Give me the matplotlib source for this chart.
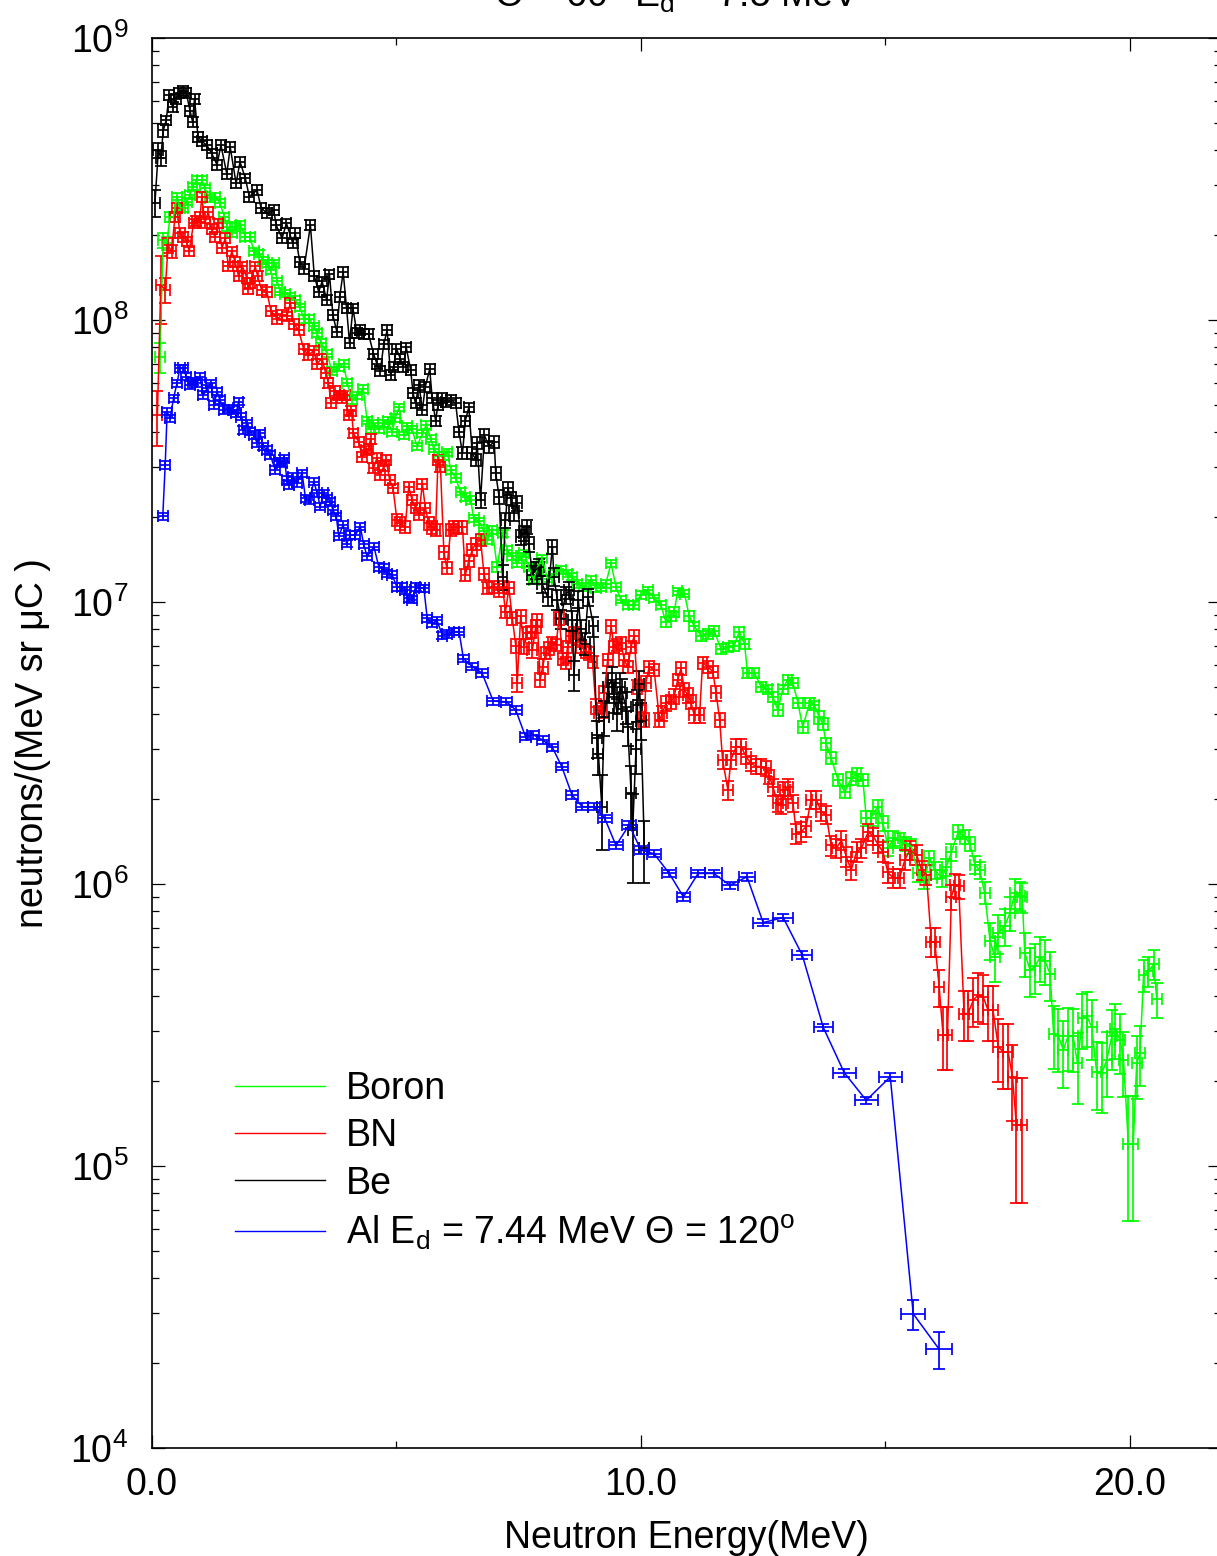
import numpy as np
import matplotlib
matplotlib.use('Agg')
import matplotlib.pyplot as plt
from matplotlib.lines import Line2D
from matplotlib.ticker import FixedLocator, LogLocator, NullFormatter

plt.rcParams['font.family'] = ['Liberation Sans', 'DejaVu Sans']
plt.rcParams['mathtext.fontset'] = 'custom'
plt.rcParams['mathtext.rm'] = 'Liberation Sans'
plt.rcParams['mathtext.it'] = 'Liberation Sans:italic'
plt.rcParams['mathtext.bf'] = 'Liberation Sans:bold'

# Be target (black)
be_e = [0.06, 0.13, 0.18, 0.23, 0.29, 0.35, 0.42, 0.49, 0.56, 0.63, 0.70, 0.78, 0.83, 0.87, 0.94,
        1.02, 1.12, 1.22, 1.33, 1.41, 1.53, 1.60, 1.72, 1.80, 1.91, 1.99, 2.15, 2.23, 2.35, 2.49,
        2.54, 2.66, 2.75, 2.88, 2.93, 3.02, 3.11, 3.24, 3.32, 3.41, 3.48, 3.57, 3.63, 3.70, 3.78,
        3.84, 3.91, 3.98, 4.04, 4.11, 4.19, 4.26, 4.33, 4.43, 4.53, 4.60, 4.67, 4.74, 4.81, 4.88,
        4.94, 5.00, 5.08, 5.14, 5.20, 5.29, 5.34, 5.39, 5.46, 5.53, 5.59, 5.68, 5.73, 5.80, 5.85,
        5.94, 6.02, 6.12, 6.21, 6.28, 6.35, 6.41, 6.48, 6.55, 6.62, 6.65, 6.72, 6.80, 6.89, 7.00,
        7.03, 7.10, 7.17, 7.23, 7.28, 7.34, 7.40, 7.47, 7.54, 7.61, 7.66, 7.71, 7.78, 7.85, 7.92,
        7.98, 8.09, 8.19, 8.22, 8.29, 8.36, 8.46, 8.53, 8.60, 8.63, 8.72, 8.77, 8.85, 8.92, 9.03,
        9.10, 9.13, 9.20, 9.25, 9.33, 9.40, 9.45, 9.52, 9.58, 9.62, 9.69, 9.73, 9.80, 9.83, 9.90,
        9.93, 9.97, 10.00, 10.07]
be_y = [2.6e8, 4.0e8, 3.75e8, 4.7e8, 5.1e8, 6.3e8, 5.7e8, 6.1e8, 6.4e8, 6.5e8, 6.4e8, 5.5e8, 5.05e8, 6.1e8, 4.47e8,
        4.3e8, 4.17e8, 3.9e8, 3.55e8, 4.17e8, 3.3e8, 4.1e8, 3.05e8, 3.64e8, 3.18e8, 2.74e8, 2.89e8, 2.5e8, 2.39e8, 2.45e8,
        2.17e8, 1.95e8, 2.2e8, 1.87e8, 2.03e8, 1.61e8, 1.52e8, 2.17e8, 1.43e8, 1.26e8, 1.37e8, 1.18e8, 1.45e8, 1.04e8, 9.1e7,
        1.21e8, 1.48e8, 1.1e8, 8.3e7, 1.1e8, 9.0e7, 9.2e7, 8.9e7, 8.9e7, 7.6e7, 7.0e7, 6.6e7, 8.2e7, 9.2e7, 6.4e7,
        6.8e7, 7.9e7, 7.3e7, 6.8e7, 8.0e7, 6.65e7, 5.5e7, 5.07e7, 5.9e7, 4.8e7, 5.8e7, 6.7e7, 5.3e7, 4.4e7, 5.0e7,
        5.3e7, 5.1e7, 5.2e7, 5.07e7, 4.0e7, 3.37e7, 4.4e7, 4.9e7, 3.37e7, 3.2e7, 3.66e7, 2.3e7, 3.9e7, 3.56e7, 3.7e7,
        2.86e7, 2.36e7, 1.23e7, 1.95e7, 2.53e7, 2.33e7, 2.06e7, 2.24e7, 1.7e7, 1.75e7, 1.85e7, 1.6e7, 1.25e7, 1.3e7, 1.33e7,
        1.16e7, 1.04e7, 1.57e7, 1.23e7, 1.02e7, 8.7e6, 1.06e7, 1.1e7, 8.6e6, 5.5e6, 1.02e7, 8.0e6, 7.1e6, 1.04e7, 8.2e6,
        3.3e6, 2.9e6, 1.88e6, 3.9e6, 5.0e6, 5.3e6, 4.6e6, 4.0e6, 5.0e6, 4.75e6, 4.26e6, 3.6e6, 2.1e6, 1.55e6, 3.0e6,
        4.3e6, 5.1e6, 3.8e6, 1.34e6]
be_err = [0.11, 0.06, 0.06, 0.05, 0.04, 0.04, 0.04, 0.04, 0.04, 0.04, 0.04, 0.04, 0.04, 0.04, 0.04,
          0.04, 0.04, 0.04, 0.04, 0.04, 0.04, 0.04, 0.04, 0.04, 0.04, 0.04, 0.04, 0.04, 0.04, 0.04,
          0.04, 0.04, 0.04, 0.04, 0.04, 0.04, 0.04, 0.04, 0.04, 0.04, 0.04, 0.04, 0.04, 0.04, 0.04,
          0.04, 0.04, 0.04, 0.04, 0.04, 0.04, 0.04, 0.04, 0.04, 0.04, 0.04, 0.04, 0.04, 0.04, 0.04,
          0.04, 0.04, 0.04, 0.04, 0.04, 0.04, 0.04, 0.04, 0.04, 0.04, 0.04, 0.04, 0.04, 0.04, 0.04,
          0.04, 0.04, 0.04, 0.04, 0.04, 0.05, 0.04, 0.04, 0.05, 0.05, 0.05, 0.06, 0.05, 0.05, 0.05,
          0.05, 0.06, 0.10, 0.06, 0.05, 0.05, 0.06, 0.06, 0.06, 0.06, 0.06, 0.06, 0.07, 0.07, 0.07,
          0.07, 0.07, 0.06, 0.07, 0.08, 0.08, 0.07, 0.07, 0.08, 0.12, 0.07, 0.08, 0.09, 0.07, 0.08,
          0.15, 0.16, 0.30, 0.14, 0.12, 0.11, 0.12, 0.13, 0.12, 0.12, 0.13, 0.14, 0.25, 0.35, 0.18,
          0.13, 0.12, 0.15, 0.25]

# Boron target (green)
b_e = [0.16, 0.23, 0.30, 0.37, 0.44, 0.51, 0.57, 0.64, 0.71, 0.78, 0.83, 0.92, 1.02, 1.08, 1.19,
       1.29, 1.39, 1.48, 1.54, 1.63, 1.70, 1.81, 1.91, 2.01, 2.08, 2.18, 2.28, 2.35, 2.43, 2.50,
       2.56, 2.62, 2.72, 2.83, 2.93, 3.02, 3.11, 3.22, 3.31, 3.37, 3.46, 3.58, 3.68, 3.82, 3.92,
       3.99, 4.09, 4.19, 4.32, 4.40, 4.47, 4.53, 4.64, 4.73, 4.82, 4.91, 4.98, 5.05, 5.15, 5.22,
       5.32, 5.42, 5.53, 5.61, 5.70, 5.76, 5.87, 5.97, 6.04, 6.11, 6.21, 6.31, 6.41, 6.52, 6.58,
       6.69, 6.79, 6.86, 6.96, 7.06, 7.17, 7.27, 7.37, 7.47, 7.54, 7.61, 7.71, 7.81, 7.88, 7.98,
       8.09, 8.22, 8.36, 8.50, 8.60, 8.70, 8.84, 8.98, 9.08, 9.18, 9.28, 9.39, 9.49, 9.59, 9.73,
       9.86, 10.00, 10.14, 10.27, 10.41, 10.51, 10.61, 10.68, 10.75, 10.89, 10.99, 11.09, 11.23, 11.37, 11.50,
       11.64, 11.78, 11.91, 12.01, 12.12, 12.18, 12.32, 12.46, 12.59, 12.70, 12.80, 12.90, 13.00, 13.11, 13.21,
       13.31, 13.45, 13.55, 13.65, 13.72, 13.79, 13.89, 14.03, 14.17, 14.30, 14.41, 14.54, 14.61, 14.70, 14.84,
       14.95, 15.06, 15.16, 15.29, 15.43, 15.53, 15.67, 15.80, 15.90, 16.01, 16.15, 16.25, 16.35, 16.49, 16.62,
       16.73, 16.83, 16.93, 17.03, 17.14, 17.24, 17.31, 17.44, 17.55, 17.65, 17.75, 17.80, 17.85, 17.96, 18.06,
       18.16, 18.26, 18.37, 18.44, 18.54, 18.64, 18.74, 18.84, 18.93, 19.03, 19.12, 19.22, 19.32, 19.43, 19.53,
       19.63, 19.70, 19.80, 19.87, 19.97, 20.07, 20.14, 20.21, 20.28, 20.38, 20.49, 20.55]
b_y = [7.4e7, 1.92e8, 1.87e8, 2.32e8, 2.32e8, 2.74e8, 2.5e8, 2.5e8, 2.63e8, 2.78e8, 2.97e8, 3.14e8, 3.14e8, 2.93e8, 2.7e8,
       2.74e8, 2.6e8, 2.32e8, 2.14e8, 2.03e8, 2.14e8, 2.17e8, 1.97e8, 1.97e8, 1.75e8, 1.72e8, 1.63e8, 1.59e8, 1.5e8, 1.59e8,
       1.37e8, 1.26e8, 1.24e8, 1.21e8, 1.18e8, 1.11e8, 1.01e8, 1.01e8, 9.5e7, 9.0e7, 8.3e7, 7.6e7, 6.6e7, 6.8e7, 7.0e7,
       6.0e7, 5.2e7, 5.4e7, 5.7e7, 4.4e7, 4.1e7, 4.3e7, 4.1e7, 4.3e7, 4.4e7, 4.0e7, 4.5e7, 4.9e7, 3.9e7, 4.2e7,
       4.1e7, 3.56e7, 3.96e7, 4.25e7, 3.8e7, 3.5e7, 3.3e7, 3.3e7, 3.4e7, 2.94e7, 2.75e7, 2.46e7, 2.36e7, 2.3e7, 1.98e7,
       1.93e7, 1.78e7, 1.66e7, 1.8e7, 1.33e7, 1.75e7, 1.53e7, 1.45e7, 1.37e7, 1.45e7, 1.49e7, 1.33e7, 1.2e7, 1.32e7, 1.43e7,
       1.21e7, 1.26e7, 1.3e7, 1.26e7, 1.23e7, 1.16e7, 1.13e7, 1.2e7, 1.12e7, 1.13e7, 1.16e7, 1.37e7, 1.13e7, 1.02e7, 9.75e6,
       9.75e6, 1.06e7, 1.1e7, 1.03e7, 9.75e6, 8.5e6, 8.9e6, 9.2e6, 1.09e7, 1.07e7, 8.9e6, 8.2e6, 7.6e6, 7.7e6, 7.9e6,
       6.8e6, 6.9e6, 7.0e6, 7.85e6, 7.1e6, 5.6e6, 5.6e6, 5.0e6, 4.9e6, 4.6e6, 4.14e6, 4.9e6, 5.3e6, 5.15e6, 4.4e6,
       3.6e6, 4.4e6, 4.3e6, 3.9e6, 3.7e6, 3.15e6, 2.8e6, 2.34e6, 2.12e6, 2.37e6, 2.45e6, 2.34e6, 1.71e6, 1.71e6, 1.88e6,
       1.64e6, 1.34e6, 1.45e6, 1.43e6, 1.39e6, 1.36e6, 1.09e6, 1.03e6, 1.24e6, 1.12e6, 1.05e6, 1.15e6, 1.3e6, 1.53e6, 1.47e6,
       1.39e6, 1.17e6, 1.12e6, 9.3e5, 6.3e5, 5.5e5, 6.7e5, 7.1e5, 7.9e5, 9.3e5, 9.1e5, 9.0e5, 5.7e5, 4.95e5, 5.1e5,
       5.5e5, 5.35e5, 4.8e5, 2.95e5, 2.88e5, 2.58e5, 2.9e5, 2.88e5, 2.31e5, 3.34e5, 3.4e5, 3.12e5, 2.16e5, 2.14e5, 2.38e5,
       2.88e5, 3.07e5, 2.8e5, 2.38e5, 1.2e5, 1.2e5, 2.31e5, 2.52e5, 4.75e5, 4.9e5, 5.2e5, 3.9e5]
b_err = [0.12, 0.06, 0.05, 0.04, 0.04, 0.03, 0.03, 0.03, 0.03, 0.03, 0.03, 0.03, 0.03, 0.03, 0.03,
         0.03, 0.03, 0.03, 0.03, 0.03, 0.03, 0.03, 0.03, 0.03, 0.03, 0.03, 0.03, 0.03, 0.03, 0.03,
         0.03, 0.03, 0.03, 0.03, 0.03, 0.03, 0.03, 0.03, 0.03, 0.03, 0.03, 0.03, 0.03, 0.03, 0.03,
         0.03, 0.03, 0.03, 0.03, 0.03, 0.03, 0.03, 0.03, 0.03, 0.03, 0.03, 0.03, 0.03, 0.03, 0.03,
         0.03, 0.03, 0.03, 0.03, 0.03, 0.03, 0.03, 0.03, 0.03, 0.03, 0.03, 0.03, 0.03, 0.03, 0.03,
         0.03, 0.03, 0.03, 0.03, 0.04, 0.03, 0.03, 0.03, 0.03, 0.03, 0.03, 0.03, 0.03, 0.03, 0.03,
         0.03, 0.03, 0.03, 0.03, 0.03, 0.03, 0.03, 0.03, 0.03, 0.03, 0.03, 0.03, 0.03, 0.03, 0.03,
         0.03, 0.03, 0.03, 0.03, 0.03, 0.04, 0.04, 0.04, 0.03, 0.03, 0.04, 0.04, 0.04, 0.04, 0.04,
         0.04, 0.04, 0.04, 0.04, 0.04, 0.04, 0.04, 0.04, 0.04, 0.04, 0.05, 0.04, 0.04, 0.04, 0.04,
         0.05, 0.04, 0.04, 0.05, 0.05, 0.05, 0.05, 0.05, 0.05, 0.05, 0.05, 0.05, 0.06, 0.06, 0.06,
         0.06, 0.06, 0.06, 0.06, 0.06, 0.06, 0.07, 0.07, 0.06, 0.07, 0.07, 0.07, 0.07, 0.06, 0.06,
         0.06, 0.07, 0.07, 0.09, 0.15, 0.18, 0.16, 0.15, 0.14, 0.12, 0.12, 0.12, 0.18, 0.2, 0.2,
         0.18, 0.18, 0.2, 0.25, 0.25, 0.27, 0.25, 0.25, 0.28, 0.22, 0.22, 0.24, 0.27, 0.28, 0.26,
         0.24, 0.22, 0.24, 0.26, 0.47, 0.47, 0.25, 0.24, 0.13, 0.12, 0.12, 0.14]

# BN target (red)
bn_e = [0.11, 0.18, 0.27, 0.33, 0.40, 0.47, 0.51, 0.57, 0.64, 0.71, 0.76, 0.85, 0.91, 0.98, 1.02,
        1.08, 1.15, 1.22, 1.29, 1.36, 1.43, 1.50, 1.56, 1.63, 1.70, 1.77, 1.85, 1.94, 1.97, 2.01,
        2.11, 2.16, 2.24, 2.35, 2.43, 2.56, 2.66, 2.76, 2.83, 2.90, 3.00, 3.10, 3.20, 3.31, 3.37,
        3.48, 3.55, 3.61, 3.66, 3.75, 3.82, 3.89, 3.95, 4.02, 4.08, 4.12, 4.23, 4.30, 4.37, 4.43,
        4.47, 4.53, 4.60, 4.67, 4.74, 4.79, 4.86, 4.93, 5.01, 5.08, 5.18, 5.25, 5.32, 5.39, 5.46,
        5.53, 5.59, 5.66, 5.73, 5.80, 5.85, 5.90, 5.97, 6.03, 6.11, 6.18, 6.25, 6.35, 6.41, 6.48,
        6.55, 6.62, 6.72, 6.79, 6.86, 7.00, 7.10, 7.17, 7.23, 7.30, 7.37, 7.44, 7.47, 7.54, 7.61,
        7.68, 7.75, 7.78, 7.85, 7.88, 7.94, 7.99, 8.05, 8.12, 8.19, 8.26, 8.33, 8.40, 8.46, 8.50,
        8.57, 8.63, 8.70, 8.77, 8.87, 8.94, 9.01, 9.08, 9.15, 9.21, 9.25, 9.32, 9.39, 9.45, 9.52,
        9.59, 9.66, 9.73, 9.80, 9.86, 9.93, 10.00, 10.07, 10.10, 10.17, 10.27, 10.38, 10.44, 10.51, 10.62,
        10.68, 10.75, 10.82, 10.89, 10.96, 11.02, 11.09, 11.20, 11.26, 11.37, 11.47, 11.54, 11.61, 11.67, 11.78,
        11.84, 11.95, 12.05, 12.15, 12.25, 12.36, 12.46, 12.56, 12.63, 12.70, 12.80, 12.87, 12.94, 13.01, 13.11,
        13.18, 13.28, 13.38, 13.48, 13.59, 13.69, 13.79, 13.89, 14.00, 14.10, 14.20, 14.30, 14.41, 14.51, 14.65,
        14.75, 14.85, 14.95, 15.05, 15.16, 15.29, 15.40, 15.50, 15.64, 15.74, 15.84, 15.94, 16.01, 16.10, 16.18,
        16.27, 16.35, 16.42, 16.50, 16.61, 16.69, 16.80, 16.90, 17.00, 17.10, 17.20, 17.31, 17.41, 17.51, 17.60,
        17.68, 17.79]
bn_y = [4.6e7, 1.33e8, 1.28e8, 1.84e8, 1.75e8, 2.32e8, 2.49e8, 2.03e8, 1.97e8, 1.9e8, 1.75e8, 2.2e8, 2.24e8, 2.32e8, 2.74e8,
        2.2e8, 2.42e8, 2.11e8, 1.97e8, 2.2e8, 1.8e8, 1.95e8, 1.55e8, 1.75e8, 1.61e8, 1.43e8, 1.55e8, 1.41e8, 1.29e8, 1.35e8,
        1.55e8, 1.43e8, 1.28e8, 1.26e8, 1.08e8, 1.01e8, 1.04e8, 1.03e8, 1.15e8, 9.7e7, 9.2e7, 7.9e7, 7.5e7, 7.8e7, 7.0e7,
        7.3e7, 6.5e7, 6.0e7, 5.07e7, 5.6e7, 5.4e7, 5.3e7, 5.4e7, 4.6e7, 4.75e7, 3.96e7, 3.7e7, 3.27e7, 3.45e7, 3.5e7,
        3.8e7, 2.98e7, 3.24e7, 2.82e7, 3.03e7, 3.2e7, 2.71e7, 2.53e7, 1.95e7, 1.9e7, 1.85e7, 2.56e7, 2.3e7, 2.16e7, 2.04e7,
        2.63e7, 2.16e7, 1.9e7, 1.84e7, 1.8e7, 3.2e7, 3.02e7, 1.5e7, 1.32e7, 1.8e7, 1.84e7, 1.85e7, 1.84e7, 1.25e7, 1.4e7,
        1.53e7, 1.61e7, 1.66e7, 1.26e7, 1.12e7, 1.13e7, 1.1e7, 1.13e7, 9.25e6, 1.12e7, 8.75e6, 7.0e6, 5.15e6, 8.9e6, 6.95e6,
        7.75e6, 7.85e6, 6.76e6, 8.2e6, 8.6e6, 5.3e6, 5.9e6, 6.6e6, 6.85e6, 7.15e6, 7.05e6, 8.75e6, 6.3e6, 6.07e6, 6.95e6,
        7.55e6, 7.75e6, 7.4e6, 6.95e6, 6.67e6, 6.58e6, 6.15e6, 4.26e6, 4.03e6, 4.14e6, 4.74e6, 6.22e6, 8.2e6, 6.95e6, 7.05e6,
        7.15e6, 6.22e6, 5.9e6, 6.95e6, 7.55e6, 5.0e6, 4.08e6, 3.82e6, 5.15e6, 5.9e6, 5.74e6, 3.82e6, 4.03e6, 4.37e6, 4.43e6,
        4.62e6, 5.28e6, 5.82e6, 4.88e6, 4.68e6, 4.43e6, 3.97e6, 3.97e6, 6.07e6, 5.9e6, 5.66e6, 4.74e6, 3.82e6, 2.76e6, 2.15e6,
        2.76e6, 3.07e6, 3.07e6, 2.83e6, 2.68e6, 2.61e6, 2.61e6, 2.57e6, 2.4e6, 2.21e6, 1.93e6, 1.91e6, 2.15e6, 2.21e6, 1.93e6,
        1.51e6, 1.53e6, 1.6e6, 1.99e6, 1.99e6, 1.8e6, 1.76e6, 1.37e6, 1.34e6, 1.43e6, 1.25e6, 1.12e6, 1.3e6, 1.34e6, 1.53e6,
        1.48e6, 1.38e6, 1.3e6, 1.1e6, 1.05e6, 1.05e6, 1.22e6, 1.32e6, 1.27e6, 1.12e6, 1.08e6, 6.24e5, 6.24e5, 4.32e5, 2.92e5,
        2.92e5, 9.0e5, 9.9e5, 9.8e5, 3.47e5, 3.47e5, 3.88e5, 4.04e5, 3.98e5, 3.57e5, 3.57e5, 2.65e5, 2.54e5, 2.54e5, 2.07e5,
        1.4e5, 1.4e5]
bn_err = [0.22, 0.27, 0.1, 0.06, 0.05, 0.04, 0.04, 0.04, 0.04, 0.04, 0.04, 0.04, 0.04, 0.04, 0.04,
          0.04, 0.04, 0.04, 0.04, 0.04, 0.04, 0.04, 0.04, 0.04, 0.04, 0.04, 0.04, 0.04, 0.04, 0.04,
          0.04, 0.04, 0.04, 0.04, 0.04, 0.04, 0.04, 0.04, 0.04, 0.04, 0.04, 0.04, 0.04, 0.04, 0.04,
          0.04, 0.04, 0.04, 0.04, 0.04, 0.04, 0.04, 0.04, 0.04, 0.04, 0.04, 0.04, 0.04, 0.04, 0.04,
          0.04, 0.04, 0.04, 0.04, 0.04, 0.04, 0.04, 0.04, 0.05, 0.05, 0.05, 0.04, 0.04, 0.04, 0.04,
          0.04, 0.04, 0.05, 0.05, 0.05, 0.04, 0.04, 0.05, 0.05, 0.05, 0.05, 0.05, 0.05, 0.05, 0.05,
          0.05, 0.05, 0.05, 0.05, 0.05, 0.05, 0.05, 0.05, 0.05, 0.05, 0.05, 0.06, 0.07, 0.05, 0.06,
          0.05, 0.05, 0.06, 0.05, 0.05, 0.06, 0.06, 0.05, 0.05, 0.05, 0.05, 0.05, 0.05, 0.05, 0.05,
          0.05, 0.05, 0.05, 0.05, 0.05, 0.05, 0.05, 0.06, 0.06, 0.06, 0.06, 0.05, 0.05, 0.05, 0.05,
          0.05, 0.05, 0.05, 0.05, 0.05, 0.06, 0.06, 0.06, 0.06, 0.05, 0.05, 0.06, 0.06, 0.06, 0.06,
          0.06, 0.05, 0.05, 0.06, 0.06, 0.06, 0.06, 0.06, 0.05, 0.05, 0.05, 0.06, 0.06, 0.07, 0.08,
          0.07, 0.06, 0.06, 0.06, 0.06, 0.06, 0.06, 0.06, 0.06, 0.07, 0.07, 0.07, 0.07, 0.07, 0.07,
          0.08, 0.08, 0.08, 0.07, 0.07, 0.07, 0.07, 0.08, 0.08, 0.08, 0.08, 0.08, 0.08, 0.08, 0.07,
          0.07, 0.07, 0.08, 0.08, 0.08, 0.08, 0.08, 0.08, 0.08, 0.08, 0.08, 0.12, 0.12, 0.15, 0.25,
          0.25, 0.1, 0.1, 0.1, 0.2, 0.2, 0.2, 0.2, 0.2, 0.22, 0.22, 0.25, 0.26, 0.26, 0.3,
          0.47, 0.47]

# Al target, Ed = 7.44 MeV, 120 deg (blue)
al_e = [0.22, 0.27, 0.31, 0.37, 0.44, 0.51, 0.57, 0.64, 0.70, 0.77, 0.83, 0.92, 0.98, 1.05, 1.13,
        1.21, 1.27, 1.33, 1.39, 1.48, 1.56, 1.65, 1.72, 1.77, 1.82, 1.87, 1.94, 2.00, 2.08, 2.15,
        2.21, 2.28, 2.35, 2.42, 2.52, 2.59, 2.66, 2.71, 2.76, 2.81, 2.88, 2.96, 3.07, 3.14, 3.22,
        3.31, 3.38, 3.44, 3.51, 3.58, 3.65, 3.70, 3.77, 3.82, 3.91, 3.98, 4.06, 4.16, 4.26, 4.33,
        4.40, 4.54, 4.64, 4.74, 4.81, 4.91, 5.01, 5.12, 5.18, 5.25, 5.32, 5.39, 5.49, 5.56, 5.63,
        5.73, 5.83, 5.94, 6.04, 6.18, 6.28, 6.37, 6.55, 6.75, 6.98, 7.25, 7.44, 7.64, 7.80, 7.99,
        8.19, 8.38, 8.59, 8.80, 9.04, 9.26, 9.49, 9.76, 10.00, 10.27, 10.58, 10.87, 11.17, 11.49, 11.82,
        12.17, 12.50, 12.91, 13.30, 13.73, 14.16, 14.61, 15.10, 15.57, 16.10]
al_y = [2.01e7, 3.06e7, 4.73e7, 4.48e7, 5.27e7, 5.96e7, 6.74e7, 6.74e7, 6.3e7, 5.88e7, 6.04e7, 5.96e7, 6.3e7, 5.42e7, 5.73e7,
        5.96e7, 5.0e7, 5.57e7, 5.2e7, 4.8e7, 4.86e7, 4.8e7, 4.67e7, 5.13e7, 4.54e7, 4.07e7, 4.3e7, 4.02e7, 3.91e7, 3.66e7,
        3.96e7, 3.56e7, 3.46e7, 3.32e7, 2.94e7, 3.15e7, 3.1e7, 3.23e7, 2.71e7, 2.6e7, 2.78e7, 2.64e7, 2.86e7, 2.33e7, 2.3e7,
        2.67e7, 2.43e7, 2.18e7, 2.43e7, 2.33e7, 2.27e7, 2.12e7, 2.01e7, 1.71e7, 1.88e7, 1.61e7, 1.73e7, 1.73e7, 1.85e7, 1.6e7,
        1.45e7, 1.57e7, 1.33e7, 1.32e7, 1.26e7, 1.25e7, 1.13e7, 1.13e7, 1.1e7, 1.03e7, 1.02e7, 1.13e7, 1.12e7, 1.12e7, 8.75e6,
        8.4e6, 8.6e6, 7.6e6, 7.7e6, 7.85e6, 7.85e6, 6.3e6, 5.9e6, 5.6e6, 4.45e6, 4.43e6, 4.14e6, 3.33e6, 3.38e6, 3.24e6,
        3.05e6, 2.61e6, 2.07e6, 1.88e6, 1.88e6, 1.71e6, 1.37e6, 1.62e6, 1.32e6, 1.28e6, 1.09e6, 9.0e5, 1.09e6, 1.09e6, 9.9e5,
        1.06e6, 7.3e5, 7.6e5, 5.6e5, 3.1e5, 2.14e5, 1.71e5, 2.07e5, 2.99e4, 2.24e4]
al_xerr = [0.1] * 81 + [0.12] * 14 + [0.14] * 8 + [0.17] * 3 + [0.2] * 4 + [0.23] * 3 + [0.25, 0.27]
al_err = [0.03] * 113 + [0.12, 0.15]

BIN_HALF = 0.1

fig = plt.figure(figsize=(12.17, 15.56), dpi=100)
ax = fig.add_axes([152 / 1217, 1 - 1448 / 1556, 1069 / 1217, 1410 / 1556])

def draw(e, y, rel, xerr, color):
    e = np.array(e)
    y = np.array(y)
    ax.errorbar(e, y, yerr=np.array(rel) * y, xerr=xerr, fmt='-', color=color,
                lw=1.1, elinewidth=1.25, capsize=4.3, capthick=1.25)

draw(b_e, b_y, b_err, BIN_HALF, '#00ff00')
draw(bn_e, bn_y, bn_err, BIN_HALF, '#ff0000')
draw(be_e, be_y, be_err, BIN_HALF, '#000000')
draw(al_e, al_y, al_err, al_xerr, '#0000ff')

ax.set_yscale('log')
ax.set_ylim(1e4, 1e9)
ax.set_xlim(0, 1067 / 48.8)

ax.xaxis.set_major_locator(FixedLocator([0, 10, 20]))
ax.xaxis.set_minor_locator(FixedLocator([5, 15]))
ax.set_xticklabels(['0.0', '10.0', '20.0'])
ax.yaxis.set_major_locator(FixedLocator([1e4, 1e5, 1e6, 1e7, 1e8, 1e9]))
ax.yaxis.set_minor_locator(LogLocator(base=10, subs=np.arange(2, 10), numticks=20))
ax.yaxis.set_minor_formatter(NullFormatter())
ax.set_yticklabels([r'$\mathregular{10^{%d}}$' % k for k in range(4, 10)])

ax.tick_params(which='both', direction='in', top=True, right=True, width=0.9)
ax.tick_params(which='major', length=9.5)
ax.tick_params(which='minor', length=5)
ax.tick_params(axis='x', labelsize=27, pad=14)
ax.tick_params(axis='y', labelsize=27, pad=17)
for s in ax.spines.values():
    s.set_linewidth(1.2)

ax.set_xlabel('Neutron Energy(MeV)', fontsize=27, labelpad=12)
ax.set_ylabel('neutrons/(MeV sr \u03bcC )', fontsize=27, labelpad=14)

fig.text(677 / 1217, 1 - 7 / 1556, '\u0398 = 60$^\\mathregular{o}$ E$_\\mathregular{d}$ = 7.5 MeV',
         ha='center', va='baseline', fontsize=27)

handles = [Line2D([], [], color='#00ff00', lw=1.0),
           Line2D([], [], color='#ff0000', lw=1.0),
           Line2D([], [], color='#000000', lw=1.0),
           Line2D([], [], color='#0000ff', lw=1.0)]
labels = ['Boron', 'BN', 'Be',
          'Al E$_\\mathregular{d}$ = 7.44 MeV \u0398 = 120$^\\mathregular{o}$']
ax.legend(handles, labels, loc='upper left', bbox_to_anchor=(83 / 1069, (1448 - 1071) / 1410),
          frameon=False, fontsize=27, handlelength=2.4, handletextpad=0.55,
          labelspacing=0.3, borderpad=0, borderaxespad=0)

fig.savefig('out.png', dpi=100)
